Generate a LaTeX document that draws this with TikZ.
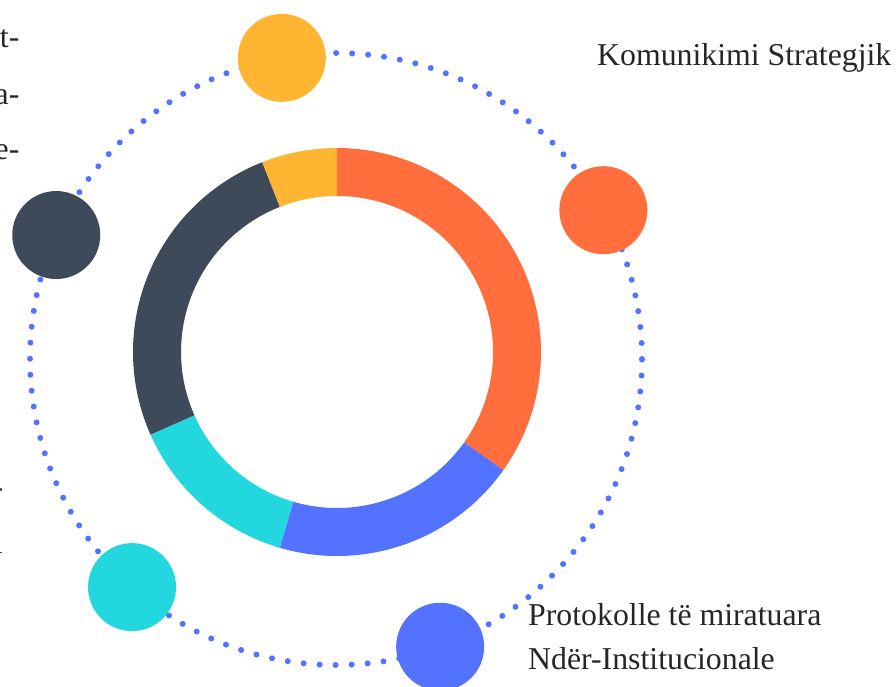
\documentclass[tikz,border=0pt]{standalone}
\usepackage{fontspec}
\setmainfont{Liberation Serif}
\usepackage[dvipsnames]{xcolor}
\definecolor{segOrange}{RGB}{255,110,60}
\definecolor{segBlue}{RGB}{82,114,255}
\definecolor{segCyan}{RGB}{34,216,222}
\definecolor{segDark}{RGB}{62,74,90}
\definecolor{segYellow}{RGB}{255,180,50}

\begin{document}
\begin{tikzpicture}[x=1pt,y=1pt,
    bubble/.style={circle,minimum size=88pt,inner sep=0pt},
    caption/.style={font=\fontsize{31.8}{38}\selectfont,inner sep=0pt,text=black!85}]
    \useasboundingbox (0,0) rectangle (896,686);
    \coordinate (ring) at (336,327);
    \coordinate (donut) at (337,334);
    % dotted orbit
    \draw[segBlue,line width=6pt,line cap=round,dash pattern=on 0pt off 16.02pt] (ring) circle[radius=306];
    % donut
    \foreach \a/\b/\c in {-35.4/90/segOrange,-106.3/-35.4/segBlue,-156.1/-106.3/segCyan,111.5/203.9/segDark,90/111.5/segYellow}
      \fill[\c] ([shift={(\a:204)}]donut) arc[start angle=\a,end angle=\b,radius=204]
        -- ([shift={(\b:156)}]donut) arc[start angle=\b,end angle=\a,radius=156] -- cycle;
    % bubbles on the orbit
    \node[bubble,fill=segYellow] (bYellow) at ([shift={(100.2:306)}]ring) {};
    \node[bubble,fill=segOrange] (bOrange) at ([shift={(29.1:306)}]ring) {};
    \node[bubble,fill=segDark] (bDark) at ([shift={(156.1:306)}]ring) {};
    \node[bubble,fill=segCyan] (bCyan) at ([shift={(228.2:306)}]ring) {};
    \node[bubble,fill=segBlue] (bBlue) at ([shift={(-70.1:306)}]ring) {};
    % texts
    \node[caption,anchor=base west] (komunikimi) at (597,620) {Komunikimi Strategjik};
    \node[caption,anchor=base west] (protokolle) at (528,60.3) {Protokolle të miratuara};
    \node[caption,anchor=base west] (nder) at (528,16.7) {Ndër-Institucionale};
    \node[caption,anchor=base east] (cutA) at (19.6,638) {t-};
    \node[caption,anchor=base east] (cutB) at (19.6,581) {a-};
    \node[caption,anchor=base east] (cutC) at (19.6,526) {e-};
    \node[caption,anchor=base east] (cutD) at (3.3,189) {-};
    \node[caption,anchor=base east] (cutE) at (3,133) {l};
\end{tikzpicture}
\end{document}
